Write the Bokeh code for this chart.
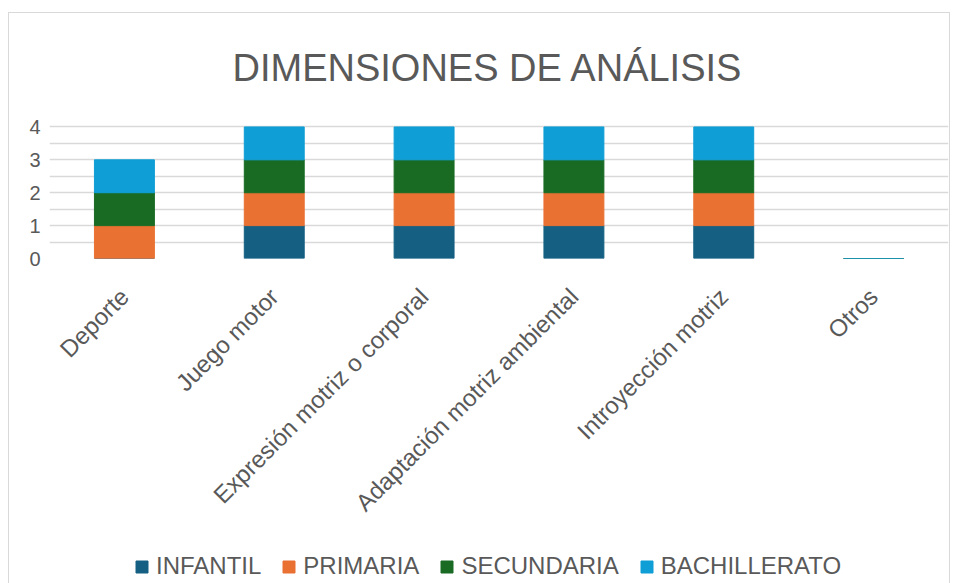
import math
from bokeh.plotting import figure
from bokeh.layouts import column
from bokeh.models import (Legend, LegendItem, Title, FactorRange, Range1d,
                          FixedTicker, ColumnDataSource)
from bokeh.embed import file_html
from bokeh.resources import INLINE

# ---- data ----
categories = ["Deporte", "Juego motor", "Expresión motriz o corporal",
              "Adaptación motriz ambiental", "Introyección motriz", "Otros"]
series = ["INFANTIL", "PRIMARIA", "SECUNDARIA", "BACHILLERATO"]
infantil = [0, 1, 1, 1, 1, 0]
primaria = [1, 1, 1, 1, 1, 0]
secundaria = [1, 1, 1, 1, 1, 0]
bachillerato = [1, 1, 1, 1, 1, 0]
colors = ["#156082", "#E97132", "#196B24", "#0F9ED5"]
y_labels = [0, 1, 2, 3, 4]
y_grid = [0, 0.5, 1, 1.5, 2, 2.5, 3, 3.5, 4, 4.5]
title_text = "DIMENSIONES DE ANÁLISIS"

FONT = "Liberation Sans"
TXT = "#595959"

source = ColumnDataSource(dict(cat=categories, INFANTIL=infantil, PRIMARIA=primaria,
                               SECUNDARIA=secundaria, BACHILLERATO=bachillerato))

p = figure(x_range=FactorRange(*categories), y_range=Range1d(0, 4.5),
           width=940, height=527, output_backend="svg", toolbar_location=None,
           min_border_left=40, min_border_right=1, min_border_top=97,
           min_border_bottom=282)

p.title = Title(text=title_text, align="left", text_font_size="38px",
                text_font_style="normal", text_color=TXT, text_font=FONT,
                standoff=43, offset=183)

p.vbar_stack(series, x="cat", width=0.4, source=source,
             fill_color=colors, line_color=colors, line_width=1)

p.outline_line_color = None
p.xgrid.grid_line_color = None
p.ygrid.ticker = FixedTicker(ticks=y_grid)
p.ygrid.grid_line_color = "#d9d9d9"
p.ygrid.grid_line_width = 1.5

p.yaxis.ticker = FixedTicker(ticks=y_labels)
p.yaxis.axis_line_color = None
p.yaxis.major_tick_line_color = None
p.yaxis.minor_tick_line_color = None
p.yaxis.major_label_text_font_size = "20px"
p.yaxis.major_label_text_color = TXT
p.yaxis.major_label_text_font = FONT
p.yaxis.major_label_standoff = 3

p.xaxis.axis_line_color = None
p.xaxis.major_tick_line_color = None
p.xaxis.major_label_orientation = math.pi / 4
p.xaxis.major_label_text_font_size = "24px"
p.xaxis.major_label_text_color = TXT
p.xaxis.major_label_text_font = FONT
p.xaxis.major_label_standoff = 28

# ---- legend strip ----
lg = figure(width=940, height=43, output_backend="svg", toolbar_location=None,
            min_border=0, x_range=Range1d(0, 1), y_range=Range1d(0, 1),
            x_axis_location=None, y_axis_location=None)
lg.grid.visible = False
lg.outline_line_color = None
swatches = [lg.vbar(x=[-10], top=[-10], width=0.1, fill_color=c, line_color=c)
            for c in colors]
items = [LegendItem(label=s, renderers=[r]) for s, r in zip(series, swatches)]
legend = Legend(items=items, orientation="horizontal", location=(85, 3),
                padding=0, margin=0, spacing=20, label_standoff=7,
                glyph_width=15, glyph_height=15, label_height=15,
                label_text_font_size="24px", label_text_color=TXT,
                label_text_font=FONT, background_fill_alpha=0,
                border_line_color=None)
lg.add_layout(legend, "center")

layout = column(p, lg, spacing=0, margin=(12, 0, 0, 8),
                styles={"border-top": "1px solid #d9d9d9",
                        "border-left": "1px solid #d9d9d9",
                        "border-right": "1px solid #d9d9d9"})
open("out.html", "w").write(file_html(layout, INLINE))
